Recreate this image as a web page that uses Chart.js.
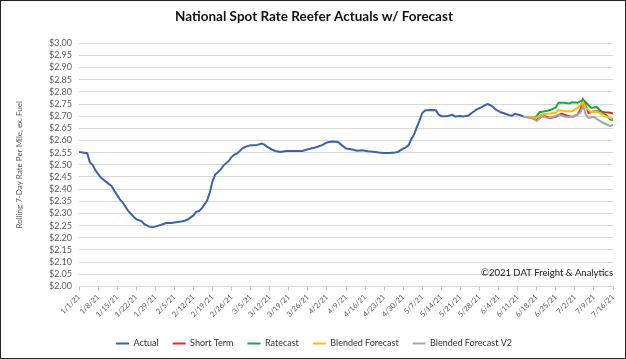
<!DOCTYPE html>
<html>
<head>
<meta charset="utf-8">
<script src="https://cdn.jsdelivr.net/npm/chart.js@4/dist/chart.umd.min.js"></script>
<style>
  html, body { margin: 0; padding: 0; background: #fff; }
  #wrap { position: relative; width: 626px; height: 359px; box-sizing: border-box; border: 1px solid #222; }
  canvas { display: block; }
</style>
</head>
<body>
<div id="wrap"><canvas id="c" width="624" height="357"></canvas></div>
<script>
// Week tick labels (one per 7 days from 1/1/21)
const weekLabels = ['1/1/21','1/8/21','1/15/21','1/22/21','1/29/21','2/5/21','2/12/21','2/19/21','2/26/21','3/5/21','3/12/21','3/19/21','3/26/21','4/2/21','4/9/21','4/16/21','4/23/21','4/30/21','5/7/21','5/14/21','5/21/21','5/28/21','6/4/21','6/11/21','6/18/21','6/25/21','7/2/21','7/9/21','7/16/21'];

// Day offsets from 1/1/21 and values
const actualDays = [0,2,3,4,5,6,8,10,12,13,15,16,18,20,21,23,24,26,27,28,30,31,32,34,36,38,39,40,42,43,44,45,47,48,49,50,52,53,55,56,57,58,60,61,63,65,67,68,69,71,72,74,76,80,82,84,86,87,89,91,93,95,96,98,100,102,104,106,108,110,112,114,116,117,119,120,121,122,123,124,125,126,127,129,131,132,133,135,137,138,140,141,143,144,146,148,149,150,151,152,153,155,156,158,159,160,162,163];
const actualValues = [2.553,2.550,2.548,2.510,2.500,2.478,2.448,2.430,2.412,2.393,2.358,2.346,2.312,2.287,2.277,2.268,2.256,2.245,2.243,2.246,2.253,2.257,2.261,2.261,2.265,2.268,2.271,2.276,2.292,2.307,2.310,2.320,2.352,2.386,2.432,2.460,2.480,2.497,2.516,2.532,2.542,2.546,2.568,2.574,2.580,2.580,2.587,2.583,2.575,2.562,2.557,2.553,2.557,2.557,2.557,2.564,2.569,2.572,2.580,2.592,2.596,2.594,2.585,2.567,2.564,2.558,2.560,2.556,2.554,2.551,2.549,2.549,2.551,2.553,2.567,2.572,2.581,2.606,2.625,2.655,2.683,2.713,2.723,2.725,2.724,2.707,2.700,2.700,2.706,2.699,2.701,2.699,2.703,2.712,2.728,2.738,2.745,2.750,2.745,2.738,2.727,2.715,2.712,2.704,2.702,2.710,2.704,2.698];

const shortTermDays = [163,165,167,168,169,171,173,175,177,179,181,183,184,185,186,187,189,191,193,195,196];
const shortTermValues = [2.698,2.696,2.690,2.684,2.700,2.700,2.693,2.697,2.711,2.703,2.697,2.707,2.725,2.768,2.741,2.714,2.720,2.720,2.716,2.714,2.711];

const ratecastDays = [163,165,167,168,169,171,173,175,176,178,180,181,183,185,186,188,190,192,194,195,196];
const ratecastValues = [2.698,2.697,2.695,2.700,2.716,2.720,2.725,2.736,2.755,2.755,2.752,2.757,2.755,2.768,2.757,2.734,2.738,2.716,2.700,2.686,2.684];

const blendedDays = [163,165,167,168,170,172,175,176,179,181,183,185,186,188,190,193,195,196];
const blendedValues = [2.698,2.697,2.695,2.695,2.707,2.710,2.714,2.725,2.720,2.720,2.734,2.757,2.734,2.716,2.720,2.700,2.693,2.689];

const blendedV2Days = [163,165,167,168,170,172,174,176,179,181,184,185,186,187,189,190,192,195,196];
const blendedV2Values = [2.698,2.695,2.688,2.680,2.700,2.693,2.697,2.707,2.697,2.697,2.714,2.744,2.707,2.693,2.697,2.689,2.675,2.659,2.666];

const toPoints = (d, v) => d.map((x, i) => ({ x: x, y: v[i] }));

const FONT = 'Lato, "Open Sans", sans-serif';

const copyrightPlugin = {
  id: 'copyright',
  afterDraw(chart) {
    const ctx = chart.ctx;
    const y = chart.scales.y.getPixelForValue(2.057);
    ctx.save();
    ctx.font = '9.5px ' + FONT;
    ctx.fillStyle = '#222';
    ctx.textAlign = 'right';
    ctx.textBaseline = 'middle';
    ctx.fillText('\u00A92021 DAT Freight & Analytics', chart.chartArea.right, y);
    ctx.restore();
  }
};

const mk = (label, d, v, color, order) => ({
  label, data: toPoints(d, v), borderColor: color, backgroundColor: color,
  borderWidth: 2, pointRadius: 0, tension: 0, order
});

new Chart(document.getElementById('c'), {
  type: 'line',
  data: {
    datasets: [
      mk('Actual', actualDays, actualValues, '#3C63A4', 5),
      mk('Short Term', shortTermDays, shortTermValues, '#E8262A', 4),
      mk('Ratecast', ratecastDays, ratecastValues, '#1FA34A', 3),
      mk('Blended Forecast', blendedDays, blendedValues, '#FFC000', 2),
      mk('Blended Forecast V2', blendedV2Days, blendedV2Values, '#A6A6A6', 1)
    ]
  },
  options: {
    responsive: false,
    animation: false,
    layout: { padding: { left: 14, right: 12, top: 0, bottom: 0 } },
    plugins: {
      title: {
        display: true,
        text: 'National Spot Rate Reefer Actuals w/ Forecast',
        color: '#111',
        font: { family: FONT, size: 13.5, weight: 'bold' },
        padding: { top: 8, bottom: 18 }
      },
      legend: {
        position: 'bottom',
        labels: {
          usePointStyle: true,
          pointStyle: 'line',
          pointStyleWidth: 13,
          color: '#333',
          font: { family: FONT, size: 9 },
          padding: 14,
          sort: (a, b) => a.datasetIndex - b.datasetIndex
        }
      },
      tooltip: { enabled: false }
    },
    scales: {
      x: {
        type: 'linear',
        min: 0, max: 196,
        afterBuildTicks(scale) {
          scale.ticks = weekLabels.map((_, i) => ({ value: i * 7 }));
        },
        afterFit(scale) { scale.height += 4; },
        ticks: {
          autoSkip: false,
          minRotation: 45, maxRotation: 45,
          color: '#595959',
          font: { family: FONT, size: 7.5 },
          padding: 2,
          callback: (v) => weekLabels[Math.round(v / 7)]
        },
        grid: { drawOnChartArea: false, drawTicks: true, tickLength: 4, color: '#BFBFBF' },
        border: { display: true, color: '#D9D9D9' }
      },
      y: {
        min: 2, max: 3,
        afterBuildTicks(scale) {
          const t = [];
          for (let i = 0; i <= 20; i++) t.push({ value: 2 + i * 0.05 });
          scale.ticks = t;
        },
        afterFit(scale) { scale.width = 64; },
        ticks: {
          autoSkip: false,
          color: '#595959',
          font: { family: FONT, size: 9 },
          padding: 7,
          callback: (v) => '$' + Number(v).toFixed(2)
        },
        grid: { color: '#D9D9D9', drawTicks: false },
        border: { display: false },
        title: {
          display: true,
          text: 'Rolling 7-Day Rate Per Mile, ex. Fuel',
          color: '#595959',
          font: { family: FONT, size: 8 },
          padding: { top: 0, bottom: 6 }
        }
      }
    }
  },
  plugins: [copyrightPlugin]
});
</script>
</body>
</html>
